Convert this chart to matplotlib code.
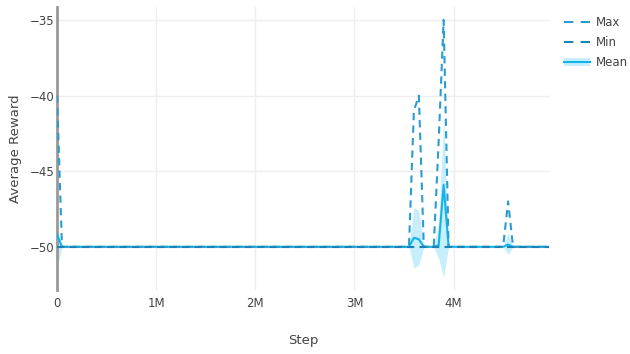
import matplotlib
matplotlib.use("Agg")
import matplotlib.pyplot as plt
from matplotlib.patches import Patch
from matplotlib.lines import Line2D

plt.rcParams['font.family'] = ['DejaVu Sans']

# training curve (steps in millions)
steps = [0.0, 0.05, 3.55, 3.6, 3.65, 3.7, 3.8, 3.85, 3.9, 3.95, 4.5, 4.55, 4.6, 4.96]
reward_max = [-40, -50, -50, -41, -40, -50, -50, -43, -35, -50, -50, -47, -50, -50]
reward_min = [-50, -50, -50, -50, -50, -50, -50, -50, -50, -50, -50, -50, -50, -50]
reward_mean = [-49.2, -50, -50, -49.4, -49.5, -50, -50, -49.9, -45.9, -50, -50, -49.85, -50, -50]
band_upper = [-48.7, -50, -50, -47.4, -47.6, -50, -50, -48.5, -41.5, -50, -50, -49.1, -50, -50]
band_lower = [-51.4, -50, -50, -51.4, -51.2, -50, -50, -50.8, -52.0, -50, -50, -50.5, -50, -50]

xtick_vals = [0, 1, 2, 3, 4]
xtick_labels = ['0', '1M', '2M', '3M', '4M']
ytick_vals = [-50, -45, -40, -35]

max_color = '#2a9dd0'
min_color = '#1b84b5'
mean_color = '#12b4ea'
band_color = '#c6eefb'
text_color = '#444444'
dash = (0, (3.5, 2.5))
legend_dash = (0, (4.5, 3.5))

fig = plt.figure(figsize=(6.3, 3.54), dpi=100)
ax = fig.add_axes([0.0905, 0.181, 0.7805, 0.799])

ax.fill_between(steps, band_lower, band_upper, color=band_color, linewidth=0, zorder=2)
ax.plot(steps, reward_mean, color=mean_color, linewidth=1.5, zorder=3)
ax.plot(steps, reward_max, color=max_color, linewidth=1.5, linestyle=dash, zorder=4)
ax.plot(steps, reward_min, color=min_color, linewidth=1.5, linestyle=dash, zorder=4)

ax.set_xlim(0, 4.96)
ax.set_ylim(-52.85, -34.15)
ax.set_xticks(xtick_vals)
ax.set_xticklabels(xtick_labels)
ax.set_yticks(ytick_vals)
ax.set_yticklabels([f'\u2212{abs(v)}' for v in ytick_vals])

ax.grid(True, color='#eeeeee', linewidth=1, zorder=0)
ax.set_axisbelow(True)
for side in ['top', 'right', 'bottom']:
    ax.spines[side].set_visible(False)
ax.spines['left'].set_color('#999999')
ax.spines['left'].set_linewidth(2)
ax.tick_params(axis='y', length=0, colors=text_color, labelsize=8.5, pad=2)
ax.tick_params(axis='x', length=0, colors=text_color, labelsize=8.5, pad=5)

ax.set_xlabel('Step', color=text_color, fontsize=9.5)
ax.set_ylabel('Average Reward', color=text_color, fontsize=9.5)
ax.xaxis.set_label_coords(0.5, -0.155)
ax.yaxis.set_label_coords(-0.072, 0.5)

handles = [
    Line2D([], [], color=max_color, linewidth=1.5, linestyle=legend_dash),
    Line2D([], [], color=min_color, linewidth=1.5, linestyle=legend_dash),
    (Patch(facecolor=band_color, edgecolor='none'), Line2D([], [], color=mean_color, linewidth=1.5)),
]
fig.legend(handles, ['Max', 'Min', 'Mean'], loc='upper left', bbox_to_anchor=(0.895, 0.955),
           frameon=False, fontsize=8.5, labelcolor=text_color, handlelength=2.2,
           handletextpad=0.5, labelspacing=0.6, borderaxespad=0, borderpad=0)

fig.savefig('out.png', dpi=100)
